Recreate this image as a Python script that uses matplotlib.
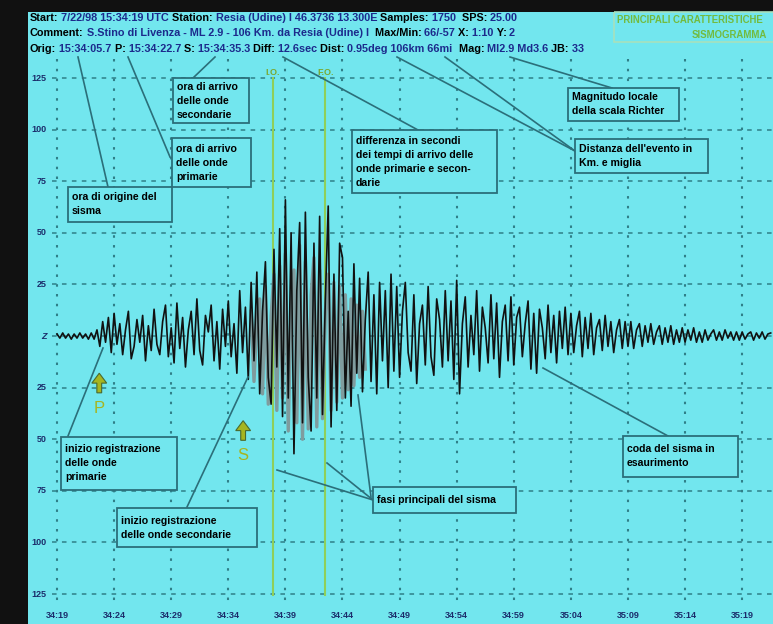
import numpy as np
import matplotlib.pyplot as plt
from matplotlib.patches import Rectangle

# sismogramma Resia 22/07/1998 - un valore ogni 0.25 s da 15:34:19
passo = 0.25
tr_0 = [1, -1, 1.5, -1, 1, -1.5, 1, -1, 1.5, -1, 1, -1.5, 1.5, -1.5, 3, -5, 7, -3, 9, -8]
tr_1 = [11, -4, 6, -9, 3, 12, -11, -5, 8, -3, 10, -12, 5, -7, 13, -4, -9, 7, 15, -10]
tr_2 = [4, -13, 16, -6, 9, -15, 3, 12, -9, 18, -7, -14, 10, 2, 15, -12, 7, -16, 13, -5]
tr_3 = [17, -10, 6, -18, 22, -8, 14, -21, 26, -12, 31, -28, 12, 36, -20, -33, 42, -15, 52, -39]
tr_4 = [66, -30, 50, -57, 22, 55, -42, 60, -20, -46, 45, -30, 58, -38, 18, 63, -44, 30, -36, 45]
tr_5 = [38, -30, 12, -34, 35, -18, 28, -27, 8, 31, -22, 20, -28, 26, -12, 22, -25, 30, -17, 24]
tr_6 = [-20, 12, 26, -8, -17, 20, -23, 6, 15, -14, 24, -10, -19, 18, 8, -15, 22, -12, 17, -21]
tr_7 = [27, -28, 6, 19, -15, 10, -9, 22, -17, 14, 4, -13, 20, -11, 16, -20, 7, 15, -12, 19]
tr_8 = [-14, 9, 14, -10, 6, 17, -16, 11, -18, 13, 4, -11, 15, -8, 10, -13, 12, -6, 14, -9]
tr_9 = [11, -8, 5, 12, -10, 9, -6, 11, -9, 4, 8, -7, 10, -5, 7, -8, 3, 8, -6, 7]
tr_10 = [-5, 7, -6, 3, 6, -5, 5, -3, 6, -4, 2, 5, -4, 4, -3, 5, -4, 3, -3, 4]
tr_11 = [-3, 3, -2, 4, -3, 2, -3, 3, -2, 1, 3, -2, 2, -2, 3, -1, 2, -2, 2, -2]
tr_12 = [2, -1.5, 1, 2, -2, 1.5, -1, 2, -1.5, 1, 1.5]

# seconda traccia (grigia) nella fase principale, da t = 17 s
inizio_grigio = 17.0
grigio = [12, -22, 8, 18, -28, 24, -33, 10, 30, -36, 34, -30, 40, -46, 15, 32, -42, 44,
          -50, 36, -45, 20, 38, -44, 32, -40, 12, 30, -36, 26, -32, 24, -30, 20, -26, 18,
          -24, 15, -20, 12, -16]

# arrivi (secondi dopo 15:34:19) e linee I.O. / F.O.
t_P = 3.7
t_S = 16.3
t_IO = 18.9
t_FO = 23.5

tick_t = [0, 5, 10, 15, 20, 25, 30, 35, 40, 45, 50, 55, 60]
tick_lab = ["34:19", "34:24", "34:29", "34:34", "34:39", "34:44", "34:49",
            "34:54", "34:59", "35:04", "35:09", "35:14", "35:19"]
griglia_y = [125, 100, 75, 50, 25, 0, -25, -50, -75, -100, -125]
etich_y = ["125", "100", "75", "50", "25", "Z", "25", "50", "75", "100", "125"]

traccia = tr_0 + tr_1 + tr_2 + tr_3 + tr_4 + tr_5 + tr_6 + tr_7 + tr_8 + tr_9 + tr_10 + tr_11 + tr_12
t = np.arange(len(traccia)) * passo
tg = inizio_grigio + np.arange(len(grigio)) * passo

ciano = '#72e6ee'
bordo = '#2b6f7a'
verde = '#8fcf5a'
giallo = '#a6b520'
blu = '#1c2a8c'
plt.rcParams['font.family'] = ['Liberation Sans', 'DejaVu Sans']

fig = plt.figure(figsize=(7.73, 6.24), dpi=100, facecolor='#111111')
ax = fig.add_axes([28 / 773, 0, 745 / 773, 612 / 624])
ax.set_facecolor(ciano)
ax.set_xlim(-2.54, 62.7)
ax.set_ylim(-139.5, 157)
ax.set_xticks([])
ax.set_yticks([])
for s in ax.spines.values():
    s.set_visible(False)

# griglia
for gy in griglia_y:
    ax.plot([-0.44, 62.7], [gy, gy], color='#2f7f88', lw=1.1, ls=(0, (3, 3.5)), zorder=1)
for gx in tick_t:
    ax.plot([gx, gx], [134, -130], color='#2f7f88', lw=1.5, ls=(0, (1.2, 3.5)), zorder=1)

for gy, lab in zip(griglia_y, etich_y):
    ax.text(-0.9, gy, lab, ha='right', va='center', fontsize=6.5, weight='bold',
            color='#1b2d6b', style='italic' if lab == 'Z' else 'normal')
for gx, lab in zip(tick_t, tick_lab):
    ax.text(gx, -135.2, lab, ha='center', va='center', fontsize=6.5, weight='bold', color='#1b2d6b')

# linee verdi
for tv, lab in [(t_IO, 'I.O.'), (t_FO, 'F.O.')]:
    ax.plot([tv, tv], [125, -125.5], color=verde, lw=1.5, zorder=2)
    ax.text(tv, 127.5, lab, ha='center', va='center', fontsize=6.5, weight='bold',
            color='#7aa830', zorder=3)

# tracce
ax.plot(tg, grigio, color='#7f9c9e', lw=2.4, zorder=3)
ax.plot(t, traccia, color='#111111', lw=1.2, zorder=4)

# frecce P e S
for tv, lab, y0, yl in [(t_P, 'P', -27.5, -35.0), (t_S, 'S', -50.5, -57.8)]:
    ax.arrow(tv, y0, 0, 9.5, width=0.42, head_width=1.3, head_length=4.8,
             length_includes_head=True, fc=giallo, ec='#4a6a30', lw=0.8, zorder=5)
    ax.text(tv, yl, lab, ha='center', va='center', fontsize=12, color=giallo, zorder=5)

# livello annotazioni in pixel
ov = fig.add_axes([0, 0, 1, 1])
ov.set_xlim(0, 773)
ov.set_ylim(624, 0)
ov.axis('off')


def riga(x, y, parti):
    txt = ov.text(x, y, parti[0][0], color=parti[0][1], fontsize=7.8, weight='bold', va='bottom')
    for s, c in parti[1:]:
        txt = ov.annotate(s, xy=(1, 0), xycoords=txt, va='bottom', color=c,
                          fontsize=7.8, weight='bold')


riga(30, 23, [("Start:", 'k'), (" 7/22/98 15:34:19 UTC", blu), (" Station:", 'k'),
              (" Resia (Udine) I 46.3736 13.300E", blu), (" Samples:", 'k'), (" 1750", blu),
              ("  SPS:", 'k'), (" 25.00", blu)])
riga(30, 38, [("Comment:", 'k'), (" S.Stino di Livenza - ML 2.9 - 106 Km. da Resia (Udine) I", blu),
              ("  Max/Min:", 'k'), (" 66/-57", blu), (" X:", 'k'), (" 1:10", blu),
              (" Y:", 'k'), (" 2", blu)])
riga(30, 54, [("Orig:", 'k'), (" 15:34:05.7", blu), (" P:", 'k'), (" 15:34:22.7", blu),
              (" S:", 'k'), (" 15:34:35.3", blu), (" Diff:", 'k'), (" 12.6sec", blu),
              (" Dist:", 'k'), (" 0.95deg 106km 66mi", blu), ("  Mag:", 'k'),
              (" Ml2.9 Md3.6", blu), (" JB:", 'k'), (" 33", blu)])

ov.add_patch(Rectangle((614, 12), 170, 30, fill=False, ec='#a8e0bc', lw=1.2))
ov.text(617, 20, "PRINCIPALI CARATTERISTICHE", fontsize=6.9, weight='bold',
        color='#72bb3e', va='center')
ov.text(767, 35, "SISMOGRAMMA", fontsize=6.9, weight='bold', color='#72bb3e',
        va='center', ha='right')

# riquadri con le didascalie
riquadri = [
    (173, 78, 76, 45, "ora di arrivo\ndelle onde\nsecondarie"),
    (172, 138, 79, 49, "ora di arrivo\ndelle onde\nprimarie"),
    (68, 187, 104, 35, "ora di origine del\nsisma"),
    (352, 130, 145, 63, "differenza in secondi\ndei tempi di arrivo delle\nonde primarie e secon-\ndarie"),
    (568, 88, 111, 33, "Magnitudo locale\ndella scala Richter"),
    (575, 139, 133, 34, "Distanza dell'evento in\nKm. e miglia"),
    (61, 437, 116, 53, "inizio registrazione\ndelle onde\nprimarie"),
    (117, 508, 140, 39, "inizio registrazione\ndelle onde secondarie"),
    (373, 487, 143, 26, "fasi principali del sisma"),
    (623, 436, 115, 41, "coda del sisma in\nesaurimento"),
]
for x0, y0, w, h, s in riquadri:
    ov.add_patch(Rectangle((x0, y0), w, h, fc=ciano, ec=bordo, lw=1.3, zorder=3))
    ov.text(x0 + 4, y0 + h / 2, s, fontsize=7.6, weight='bold', va='center', ha='left',
            linespacing=1.5, zorder=4)

linee = [
    ((78, 57), (108, 187)), ((128, 57), (170, 157)), ((215, 57), (193, 78)),
    ((283, 57), (418, 130)), ((397, 57), (575, 151)), ((445, 57), (575, 151)),
    ((510, 57), (612, 88)), ((68, 436), (103, 348)), ((187, 507), (248, 377)),
    ((277, 470), (373, 500)), ((327, 463), (373, 500)), ((358, 395), (371, 497)),
    ((543, 368), (668, 436)),
]
for (xa, ya), (xb, yb) in linee:
    ov.plot([xa, xb], [ya, yb], color=bordo, lw=1.2, zorder=2)

fig.savefig('out.png', dpi=100, facecolor=fig.get_facecolor())
